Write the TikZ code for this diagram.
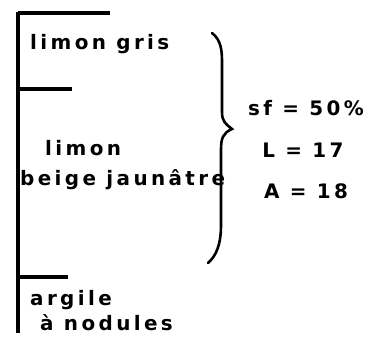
\documentclass[tikz,border=0pt]{standalone}
\usepackage{fontspec}
\newfontfamily\hand[LetterSpace=17]{DejaVu Sans}
\begin{document}
\begin{tikzpicture}[x=1bp,y=-1bp,
  rule/.style={line width=3.2pt},
  brc/.style={line width=2.6pt,line cap=round},
  lbl/.style={font=\hand\bfseries\fontsize{20}{22}\selectfont,inner sep=0pt,anchor=west},
  val/.style={font=\hand\bfseries\fontsize{20}{22}\selectfont,inner sep=0pt}]
\useasboundingbox (0,0) rectangle (390,357);
\coordinate (vt) at (18,12);
\coordinate (vb) at (18,333);
\coordinate (h1) at (110,13);
\coordinate (h2) at (72,89);
\coordinate (h3) at (68,277);
\draw[rule] (vt) -- (vb);
\draw[rule] (18,13) -- (h1);
\draw[rule] (18,89) -- (h2);
\draw[rule] (18,277) -- (h3);
\node[lbl] (lg) at (30,44) {limon gris};
\node[lbl] (lm) at (45,148) {limon};
\node[lbl] (bj) at (20,180) {beige jaunâtre};
\node[lbl] (ar) at (30,300) {argile};
\node[lbl] (nd) at (40,323) {à nodules};
\coordinate (bt) at (212,33);
\coordinate (bm) at (232,129);
\coordinate (bb) at (208,263);
\draw[brc] (bt) .. controls (221,40) and (222,50) .. (222,62)
  -- (222,112) .. controls (222,122) and (226,124) .. (bm)
  .. controls (223,133) and (221,138) .. (221,150)
  -- (221,225) .. controls (221,245) and (216,256) .. (bb);
\node[val] (sf) at (306,108) {sf = 50\%};
\node[val] (L) at (303,150) {L = 17};
\node[val] (A) at (306,191) {A = 18};
\end{tikzpicture}
\end{document}
